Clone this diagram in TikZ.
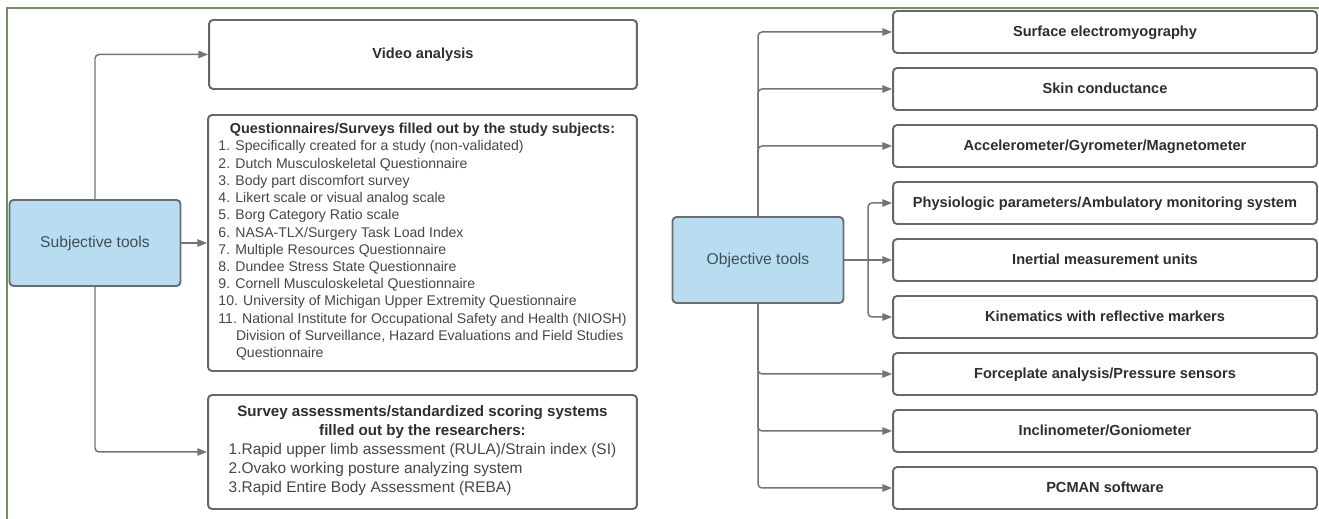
\documentclass[tikz,border=0pt]{standalone}
\usepackage{fontspec}
\setmainfont{Liberation Sans}
\usepackage{xcolor}
\usetikzlibrary{arrows.meta,positioning,calc}

\definecolor{boxline}{HTML}{676767}
\definecolor{wireline}{HTML}{747474}
\definecolor{toolblue}{HTML}{B8DCF0}
\definecolor{toolborder}{HTML}{686D72}
\definecolor{frameg}{HTML}{6F9265}
\definecolor{txtdark}{HTML}{2E2E2E}
\definecolor{txtgray}{HTML}{474747}
\definecolor{tooltxt}{HTML}{3F4E5A}

\begin{document}
\begin{tikzpicture}[x=0.02cm, y=-0.02cm,
    tool/.style={rectangle, draw=toolborder, line width=1.1pt, rounded corners=2.3pt, fill=toolblue, minimum width=3.42cm, minimum height=1.72cm, inner sep=0pt, font=\fontsize{8.9}{10.8}\selectfont, text=tooltxt},
    item/.style={rectangle, draw=boxline, line width=1.1pt, rounded corners=2.3pt, fill=white, minimum width=8.48cm, minimum height=0.84cm, inner sep=0pt, text height=6.2pt, text depth=1.6pt, font=\fontsize{8.3}{10}\selectfont\bfseries, text=txtdark},
    listbox/.style={rectangle, draw=boxline, line width=1.1pt, rounded corners=2.3pt, fill=white, minimum width=8.58cm, inner sep=0pt, align=center, text=txtgray},
    arrow/.style={-{Triangle[length=5.5pt,width=4.2pt]}, draw=wireline, line width=0.85pt, rounded corners=2.3pt}
]
\useasboundingbox (0,0) rectangle (1319,519);
\draw[frameg, line width=0.8pt] (7,519) -- (7,8) -- (1319,8);

% subjective side
\node[tool] (subj) at (95,243) {Subjective tools};
\node[item, minimum width=8.56cm, minimum height=1.38cm] (video) at (423,54.5) {Video analysis};
\node[listbox, minimum height=5.12cm, font=\fontsize{8}{9.8}\selectfont] (quest) at (422.5,243) {%
  {\fontsize{8.2}{9.8}\selectfont\bfseries\color{txtdark}Questionnaires/Surveys filled out by the study subjects:}\\
  \begin{tabular}[t]{@{}l@{}}
  1. Specifically created for a study (non-validated)\\
  2. Dutch Musculoskeletal Questionnaire\\
  3. Body part discomfort survey\\
  4. Likert scale or visual analog scale\\
  5. Borg Category Ratio scale\\
  6. NASA-TLX/Surgery Task Load Index\\
  7. Multiple Resources Questionnaire\\
  8. Dundee Stress State Questionnaire\\
  9. Cornell Musculoskeletal Questionnaire\\
  10. University of Michigan Upper Extremity Questionnaire\\
  11. National Institute for Occupational Safety and Health (NIOSH)\\
  \hspace*{1.25em}Division of Surveillance, Hazard Evaluations and Field Studies\\
  \hspace*{1.25em}Questionnaire
  \end{tabular}};
\node[listbox, minimum height=2.28cm, font=\fontsize{8.8}{10.8}\selectfont] (survey) at (422.5,452) {%
  {\fontsize{8.6}{10.8}\selectfont\bfseries\color{txtdark}Survey assessments/standardized scoring systems}\\
  {\fontsize{8.6}{10.8}\selectfont\bfseries\color{txtdark}filled out by the researchers:}\\
  \begin{tabular}[t]{@{}l@{}}
  1.Rapid upper limb assessment (RULA)/Strain index (SI)\\
  2.Ovako working posture analyzing system\\
  3.Rapid Entire Body Assessment (REBA)
  \end{tabular}};
\draw[arrow] (subj.north) |- (video.west);
\draw[arrow] (subj.east) -- (quest.west);
\draw[arrow] (subj.south) |- (survey.west);

% objective side
\node[tool] (obj) at (758,260) {Objective tools};
\foreach \n/\y/\t in {emg/32/{Surface electromyography}, skin/89/{Skin conductance}, accel/146/{Accelerometer/Gyrometer/Magnetometer}, phys/203/{Physiologic parameters/Ambulatory monitoring system}, imu/260/{Inertial measurement units}, kin/317/{Kinematics with reflective markers}, force/374/{Forceplate analysis/Pressure sensors}, incl/431/{Inclinometer/Goniometer}, pcman/488/{PCMAN software}}
  \node[item] (\n) at (1105,\y) {\t};
\foreach \n in {emg,skin,accel}{\draw[arrow] (obj.north) |- (\n.west);}
\foreach \n in {force,incl,pcman}{\draw[arrow] (obj.south) |- (\n.west);}
\coordinate (fork) at (868,260);
\draw[arrow] (obj.east) -- (imu.west);
\foreach \n in {phys,kin}{\draw[arrow] (fork) |- (\n.west);}
\end{tikzpicture}
\end{document}
